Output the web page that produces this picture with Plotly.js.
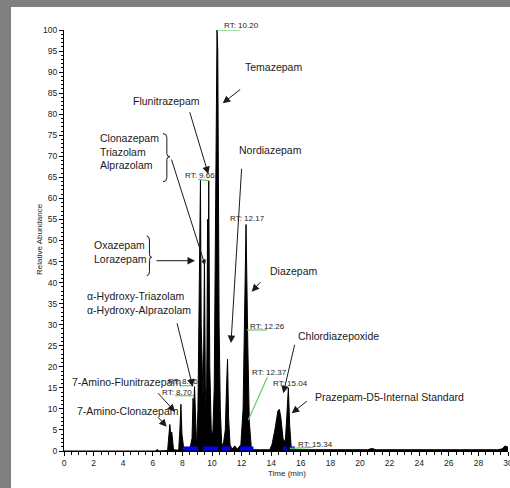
<!DOCTYPE html>
<html>
<head>
<meta charset="utf-8">
<script src="https://cdn.plot.ly/plotly-3.0.1.min.js"></script>
<style>
html,body{margin:0;padding:0;background:#808080;width:510px;height:488px;overflow:hidden;}
#chart{position:absolute;left:11px;top:7px;width:499px;height:481px;background:#fff;}
</style>
</head>
<body>
<div id="chart"></div>
<script>
// Chromatogram trace (time in min, relative abundance %)
const timeMin = [0,6.2,6.3,6.4,7.0,7.08,7.15,7.22,7.28,7.4,7.75,7.83,7.9,7.97,8.1,8.5,8.65,8.72,8.76,8.82,8.9,8.96,
  9.05,9.15,9.22,9.27,9.32,9.4,9.44,9.49,9.55,9.62,9.66,9.70,9.73,9.78,9.85,9.95,10.05,10.15,10.25,10.29,10.34,10.39,10.43,10.48,10.56,10.65,10.75,
  10.9,10.98,11.05,11.12,11.22,11.35,11.55,11.7,11.95,12.1,12.18,12.3,12.42,12.52,12.65,12.8,13.9,14.05,14.25,14.45,14.55,14.65,14.8,14.95,
  15.05,15.16,15.25,15.35,15.5,20.5,20.8,21.1,29.3,29.6,29.8,30];
const abundance = [0,0,0.4,0,0.1,3,6.3,3.5,4.5,0.3,0.2,5,11.1,4,0.3,0.4,3,12.5,10,15.3,3,0.8,
  10,35,64.5,30,20,12,25,45.5,15,8,25,55,35,64.2,20,5,3.6,15,60,95,100,95,55,30,10,2,1.2,
  5,15,21.8,8,1.5,0.5,1.2,0.4,1.5,10,28,53.8,25,7,1,0.3,0.3,1.5,5,9.5,9.9,8,3,2,
  8,15,6,1,0.3,0.3,0.6,0.3,0.3,0.5,1.2,0.9];

// Integration baseline segments (start, end in min)
const baseStart = [8.05, 9.4, 10.67, 11.9, 14.82, 15.22];
const baseEnd   = [9.07, 10.4, 11.23, 12.8, 15.05, 15.6];

// Compound labels
const compoundText = ['Temazepam','Flunitrazepam','Clonazepam<br>Triazolam<br>Alprazolam','Nordiazepam',
  'Oxazepam<br>Lorazepam','Diazepam','α-Hydroxy-Triazolam<br>α-Hydroxy-Alprazolam','Chlordiazepoxide',
  '7-Amino-Flunitrazepam','Prazepam-D5-Internal Standard','7-Amino-Clonazepam'];
// RT labels
const rtText = ['RT: 10.20','RT: 9.66','RT: 12.17','RT: 12.26','RT: 12.37','RT: 15.04','RT: 15.34','RT: 8.76','RT: 8.70'];

// ---- layout helpers (page pixel -> paper / axis coordinates) ----
const L = 64, W = 444, B = 451, H = 421;
const PX = px => (px - L) / W;
const PY = py => (B - py) / H;
const X = px => (px - L) / W * 30;
const Y = py => (B - py) / H * 100;

const labelPos = [[243,66.7],[130.7,101],[98,151.5],[236.7,150],[92,251.5],[268.3,270.7],[85,302.7],[296,335.7],[70,381.7],[313.3,397.3],[75,410.7]];
const rtPos = [[221.7,25.7],[182.7,175],[228.3,218.3],[248,326],[250,372.7],[270.7,383.3],[296,444],[165.5,381.7],[160,392.3]];
const arrows = [
  [241.7,88.3,222.7,103.3,1.5],[189.3,110.7,208.3,174,1.5],[171,158,205,265,1.0],[155,260.7,195,260.7,1.5],
  [176.7,321.7,192.7,386.7,1.5],[156.7,391.7,175,411.7,1.5],[156.7,415.7,166.7,426.7,1.5],[241.7,167.3,231,343,1.5],
  [261.7,280.7,251.7,291.7,1.5],[295,343.3,283.3,393.3,1.5],[308.3,400,291.7,413.3,1.5]];
const greenLines = [[217,30,240,30],[198.3,179.3,208.3,180.7],[246.7,330,267.3,330],[248.3,420,267.3,377.3],
  [290,448.3,313.3,447.3],[180,385.7,193.3,385.7],[175,395.7,193.3,395.7]];

const FAM = 'Liberation Sans, Arial, sans-serif';
const annotations = [];
compoundText.forEach((t,i)=>{
  annotations.push({text:t, x:PX(labelPos[i][0]), y:PY(labelPos[i][1]), xref:'paper', yref:'paper', xanchor:'left', yanchor:'middle',
    align:'left', showarrow:false, font:{family:FAM, size:10.5, color:'#1a1a1a'}});
});
rtText.forEach((t,i)=>{
  annotations.push({text:t, x:PX(rtPos[i][0]), y:PY(rtPos[i][1]), xref:'paper', yref:'paper', xanchor:'left', yanchor:'middle',
    showarrow:false, font:{family:FAM, size:8, color:'#222'}});
});
arrows.forEach(a=>{
  annotations.push({text:'', x:PX(a[2]), y:PY(a[3]), xref:'paper', yref:'paper', ax:a[0]-a[2], ay:a[1]-a[3],
    showarrow:true, arrowhead:2, arrowsize:a[4], arrowwidth:1, arrowcolor:'#1a1a1a', standoff:0, startstandoff:0});
});
annotations.push({text:'Relative Abundance', x:PX(39), y:PY(239), xref:'paper', yref:'paper', textangle:-90, showarrow:false,
  xanchor:'center', yanchor:'middle', font:{family:FAM, size:8, color:'#222'}});
annotations.push({text:'Time (min)', x:PX(287), y:PY(473), xref:'paper', yref:'paper', showarrow:false,
  xanchor:'center', yanchor:'middle', font:{family:FAM, size:8, color:'#222'}});

const shapes = greenLines.map(g=>({type:'line', xref:'x', yref:'y', x0:X(g[0]), y0:Y(g[1]), x1:X(g[2]), y1:Y(g[3]),
  line:{color:'#66cc66', width:1.2}, layer:'above'}));

function brace(x0, xt, yTop, yBot, yTip){
  const xm = x0 + (xt - x0) * 0.55;
  const p = (px,py)=> X(px)+','+Y(py);
  return 'M'+p(x0,yTop)+' Q'+p(xm,yTop)+' '+p(xm,yTop+4)+' L'+p(xm,yTip-3)+' Q'+p(xm,yTip)+' '+p(xt,yTip)+
    ' Q'+p(xm,yTip)+' '+p(xm,yTip+3)+' L'+p(xm,yBot-4)+' Q'+p(xm,yBot)+' '+p(x0,yBot);
}
shapes.push({type:'path', xref:'x', yref:'y', path:brace(163,170,133.5,181.7,156.7), line:{color:'#1a1a1a', width:1}});
shapes.push({type:'path', xref:'x', yref:'y', path:brace(146.7,151.7,236,275.7,257.3), line:{color:'#1a1a1a', width:1}});

const bx = [], by = [];
baseStart.forEach((s,i)=>{ bx.push(s, baseEnd[i], null); by.push(0.6, 0.6, null); });

const traces = [
  {x:timeMin, y:abundance, type:'scatter', mode:'lines', fill:'tozeroy', fillcolor:'#000',
   line:{color:'#000', width:1}, hoverinfo:'skip'},
  {x:bx, y:by, type:'scatter', mode:'lines', line:{color:'#0000ff', width:4}, hoverinfo:'skip'}
];

const axisFont = {family:FAM, size:8.5, color:'#222'};
const layout = {
  width:499, height:481, margin:{l:53, r:2, t:23, b:37},
  paper_bgcolor:'#fff', plot_bgcolor:'#fff', showlegend:false,
  xaxis:{range:[0,30], dtick:2, tick0:0, ticks:'outside', ticklen:4, tickwidth:1, tickcolor:'#000',
    showline:true, linecolor:'#000', linewidth:1, showgrid:false, zeroline:false, tickfont:axisFont,
    ticklabeloverflow:'allow',
    minor:{dtick:0.5, ticks:'outside', ticklen:3, tickcolor:'#000', showgrid:false}},
  yaxis:{range:[0,100], dtick:5, tick0:0, ticks:'outside', ticklen:4, tickwidth:1, tickcolor:'#000',
    showline:true, linecolor:'#000', linewidth:1, showgrid:false, zeroline:false, tickfont:axisFont,
    minor:{dtick:1, ticks:'outside', ticklen:2, tickcolor:'#000', showgrid:false}},
  annotations:annotations, shapes:shapes
};
Plotly.newPlot('chart', traces, layout, {displayModeBar:false, staticPlot:true});
</script>
</body>
</html>
